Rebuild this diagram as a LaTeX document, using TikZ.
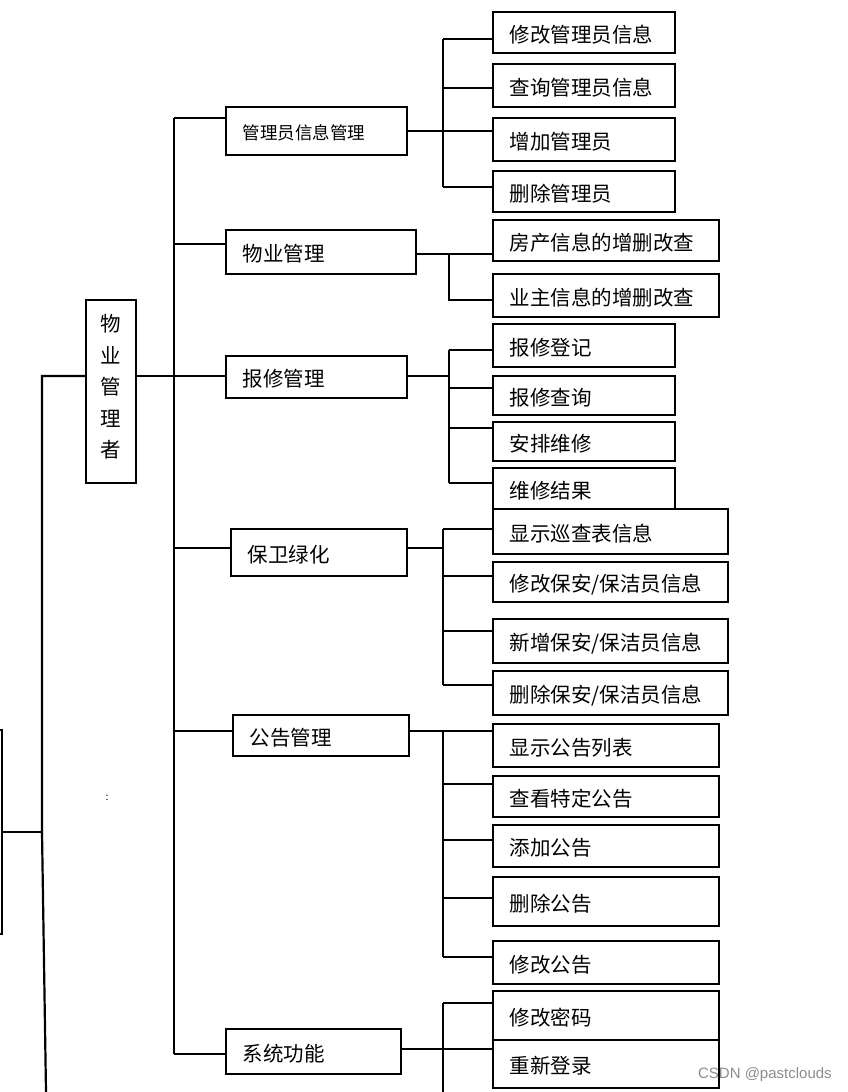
\documentclass[tikz,border=0pt]{standalone}
\usepackage{fontspec}
\setmainfont{Noto Sans CJK SC}
\newfontfamily\wmfont{Liberation Sans}
\newcommand\bx[7][20.5]{%
  \pgfmathsetmacro\bxwid{#5-#3}%
  \pgfmathsetmacro\bxhei{#6-#4}%
  \pgfmathsetmacro\bxtxt{#5-#3-33}%
  \pgfmathsetmacro\bxth{0.76*#1+3.6}%
  \node[box, font=\fontsize{#1}{#1}\selectfont, minimum width=\bxwid pt, minimum height=\bxhei pt, text width=\bxtxt pt, text height=\bxth pt, text depth=0pt] (#2) at ({(#3+#5)/2},{(#4+#6)/2}) {#7};}
\begin{document}
\begin{tikzpicture}[x=1pt,y=-1pt, line width=2.2pt,
  box/.style={draw, line width=2.2pt, fill=white, inner sep=0pt, align=left},
  link/.style={draw, line width=2.2pt}]
\useasboundingbox (0,0) rectangle (848,1092);

% root and left partial box
\node[box, align=center, font=\fontsize{20.5}{31.5}\selectfont, minimum width=50pt, minimum height=183pt] (root) at (111,391.5) {物\\业\\管\\理\\者\\[-21pt]\mbox{}};
\node[box, minimum width=104pt, minimum height=204pt] (left) at (-50,832) {};
\node[font=\fontsize{10}{10}\selectfont] (colon) at (107,798) {:};

% level 2
\bx[17.5]{p1}{226}{107}{407}{155}{管理员信息管理}
\bx{p2}{226}{230}{416}{274}{物业管理}
\bx{p3}{226}{356}{407}{398}{报修管理}
\bx{p4}{231}{529}{407}{576}{保卫绿化}
\bx{p5}{233}{715}{409}{756}{公告管理}
\bx{p6}{226}{1029}{401}{1074}{系统功能}

% level 3
\bx{c11}{493}{12}{675}{53}{修改管理员信息}
\bx{c12}{493}{64}{675}{107}{查询管理员信息}
\bx{c13}{493}{118}{675}{161}{增加管理员}
\bx{c14}{493}{171}{675}{212}{删除管理员}
\bx{c21}{493}{220}{719}{261}{房产信息的增删改查}
\bx{c22}{493}{274}{719}{317}{业主信息的增删改查}
\bx{c31}{493}{324}{675}{367}{报修登记}
\bx{c32}{493}{376}{675}{415}{报修查询}
\bx{c33}{493}{422}{675}{461}{安排维修}
\bx{c34}{493}{468}{675}{509}{维修结果}
\bx{c41}{493}{509}{728}{554}{显示巡查表信息}
\bx{c42}{493}{562}{728}{602}{修改保安/保洁员信息}
\bx{c43}{493}{619}{728}{663}{新增保安/保洁员信息}
\bx{c44}{493}{671}{728}{715}{删除保安/保洁员信息}
\bx{c51}{493}{724}{719}{767}{显示公告列表}
\bx{c52}{493}{776}{719}{817}{查看特定公告}
\bx{c53}{493}{825}{719}{867}{添加公告}
\bx{c54}{493}{877}{719}{926}{删除公告}
\bx{c55}{493}{941}{719}{984}{修改公告}
\bx{c61}{493}{991}{719}{1040}{修改密码}
\bx{c62}{493}{1040}{719}{1088}{重新登录}

% left lines
\coordinate (L1) at (42,376);
\coordinate (L2) at (42,832);
\coordinate (L3) at (46,1092);
\draw[link] (root.west |- L1) -- (L1) -- (L2) -- (L3);
\draw[link] (left.east |- L2) -- (L2);

% trunk
\coordinate (t1) at (174,118);
\coordinate (t2) at (174,244);
\coordinate (t3) at (174,376);
\coordinate (t4) at (174,548);
\coordinate (t5) at (174,731);
\coordinate (t6) at (174,1054);
\draw[link] (t1) -- (t6);
\draw[link] (t1) -- (p1.west |- t1);
\draw[link] (t2) -- (p2.west |- t2);
\draw[link] (root.east |- t3) -- (t3) -- (p3.west |- t3);
\draw[link] (t4) -- (p4.west |- t4);
\draw[link] (t5) -- (p5.west |- t5);
\draw[link] (t6) -- (p6.west |- t6);

% group 1
\coordinate (g1a) at (443,39);
\coordinate (g1b) at (443,88);
\coordinate (g1c) at (443,131);
\coordinate (g1d) at (443,187);
\draw[link] (g1a) -- (g1d);
\draw[link] (p1.east |- g1c) -- (g1c);
\draw[link] (g1a) -- (c11.west |- g1a);
\draw[link] (g1b) -- (c12.west |- g1b);
\draw[link] (g1c) -- (c13.west |- g1c);
\draw[link] (g1d) -- (c14.west |- g1d);

% group 2
\coordinate (g2a) at (449,254);
\coordinate (g2b) at (449,300);
\draw[link] (p2.east |- g2a) -- (g2a) -- (c21.west |- g2a);
\draw[link] (g2a) -- (g2b) -- (c22.west |- g2b);

% group 3
\coordinate (g3p) at (449,376);
\coordinate (g3a) at (449,350);
\coordinate (g3b) at (449,388);
\coordinate (g3c) at (449,428);
\coordinate (g3d) at (449,483);
\draw[link] (g3a) -- (g3d);
\draw[link] (p3.east |- g3p) -- (g3p);
\draw[link] (g3a) -- (c31.west |- g3a);
\draw[link] (g3b) -- (c32.west |- g3b);
\draw[link] (g3c) -- (c33.west |- g3c);
\draw[link] (g3d) -- (c34.west |- g3d);

% group 4
\coordinate (g4p) at (443,548);
\coordinate (g4a) at (443,529);
\coordinate (g4b) at (443,576);
\coordinate (g4c) at (443,631);
\coordinate (g4d) at (443,685);
\draw[link] (g4a) -- (g4d);
\draw[link] (p4.east |- g4p) -- (g4p);
\draw[link] (g4a) -- (c41.west |- g4a);
\draw[link] (g4b) -- (c42.west |- g4b);
\draw[link] (g4c) -- (c43.west |- g4c);
\draw[link] (g4d) -- (c44.west |- g4d);

% group 5
\coordinate (g5a) at (443,731);
\coordinate (g5b) at (443,784);
\coordinate (g5c) at (443,840);
\coordinate (g5d) at (443,898);
\coordinate (g5e) at (443,957);
\draw[link] (g5a) -- (g5e);
\draw[link] (p5.east |- g5a) -- (g5a) -- (c51.west |- g5a);
\draw[link] (g5b) -- (c52.west |- g5b);
\draw[link] (g5c) -- (c53.west |- g5c);
\draw[link] (g5d) -- (c54.west |- g5d);
\draw[link] (g5e) -- (c55.west |- g5e);

% group 6
\coordinate (g6a) at (443,1003);
\coordinate (g6b) at (443,1049);
\coordinate (g6z) at (443,1092);
\draw[link] (g6a) -- (g6z);
\draw[link] (p6.east |- g6b) -- (g6b) -- (c62.west |- g6b);
\draw[link] (g6a) -- (c61.west |- g6a);

% watermark
\node[anchor=west, text=black!45, font=\wmfont\fontsize{15}{15}\selectfont, inner sep=0pt] (wm) at (697,1075) {CSDN @pastclouds};
\end{tikzpicture}
\end{document}
